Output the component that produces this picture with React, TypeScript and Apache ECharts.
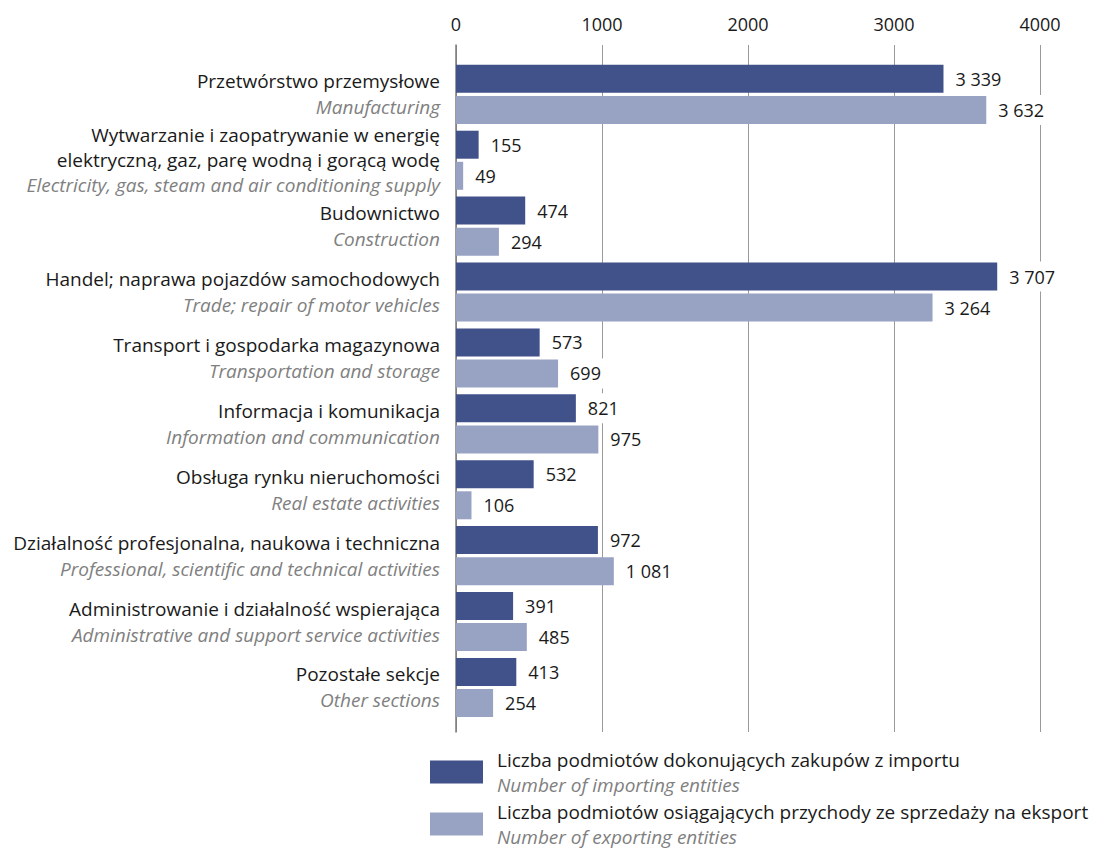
import React, { useEffect, useRef } from "react";
import * as echarts from "echarts";

const categoriesPl: string[][] = [
  ["Przetwórstwo przemysłowe"],
  ["Wytwarzanie i zaopatrywanie w energię", "elektryczną, gaz, parę wodną i gorącą wodę"],
  ["Budownictwo"],
  ["Handel; naprawa pojazdów samochodowych"],
  ["Transport i gospodarka magazynowa"],
  ["Informacja i komunikacja"],
  ["Obsługa rynku nieruchomości"],
  ["Działalność profesjonalna, naukowa i techniczna"],
  ["Administrowanie i działalność wspierająca"],
  ["Pozostałe sekcje"],
];
const categoriesEn: string[] = [
  "Manufacturing",
  "Electricity, gas, steam and air conditioning supply",
  "Construction",
  "Trade; repair of motor vehicles",
  "Transportation and storage",
  "Information and communication",
  "Real estate activities",
  "Professional, scientific and technical activities",
  "Administrative and support service activities",
  "Other sections",
];
const importing: number[] = [3339, 155, 474, 3707, 573, 821, 532, 972, 391, 413];
const exporting: number[] = [3632, 49, 294, 3264, 699, 975, 106, 1081, 485, 254];
const xTicks: number[] = [0, 1000, 2000, 3000, 4000];
const seriesNamesPl: string[] = [
  "Liczba podmiotów dokonujących zakupów z importu",
  "Liczba podmiotów osiągających przychody ze sprzedaży na eksport",
];
const seriesNamesEn: string[] = ["Number of importing entities", "Number of exporting entities"];

const DARK = "#415189";
const LIGHT = "#98a3c4";
const FONT = "'Open Sans', sans-serif";
const FS = 19;

const fmt = (v: number) => String(v).replace(/\B(?=(\d{3})+(?!\d))/g, " ");

export default function App() {
  const ref = useRef<HTMLDivElement>(null);
  useEffect(() => {
    document.body.style.margin = "0";
    if (!ref.current) return;
    const chart = echarts.init(ref.current, null, { renderer: "svg" });
    const catKeys = categoriesPl.map((c) => c.join(" "));
    const valueLabel = {
      show: true,
      position: "right",
      distance: 8,
      formatter: (p: any) => fmt(p.value),
      color: "#1a1a1a",
      fontFamily: FONT,
      fontSize: 18,
      backgroundColor: "#ffffff",
      padding: [6, 4],
    };
    const legendText = {
      rich: {
        pl: { fontSize: FS, lineHeight: 25, color: "#1a1a1a", fontFamily: FONT, padding: [0, 0, 0, 9] },
        en: { fontSize: FS, lineHeight: 25, color: "#808080", fontStyle: "italic", fontFamily: FONT, padding: [0, 0, 0, 9] },
      },
    };
    const legendFormatter = (name: string) => {
      const i = seriesNamesPl.indexOf(name);
      return `{pl|${name}}\n{en|${seriesNamesEn[i]}}`;
    };
    const legendTops = [750, 802];
    chart.setOption({
      animation: false,
      textStyle: { fontFamily: FONT },
      grid: [
        { left: 456, right: 58, top: 45, height: 687 },
        { left: 456, right: 58, top: 61.4, height: 659 },
      ],
      xAxis: [
        {
          gridIndex: 0,
          type: "value",
          position: "top",
          min: xTicks[0],
          max: xTicks[xTicks.length - 1],
          interval: 1000,
          axisLine: { show: false },
          axisTick: { show: false },
          axisLabel: {
            margin: 12,
            color: "#1a1a1a",
            fontSize: 18,
            fontFamily: FONT,
            formatter: (v: number) => String(v),
          },
          splitLine: { show: true, lineStyle: { color: "#9a9a9a", width: 1 } },
        },
        {
          gridIndex: 1,
          type: "value",
          min: xTicks[0],
          max: xTicks[xTicks.length - 1],
          show: false,
        },
      ],
      yAxis: [
        {
          gridIndex: 0,
          type: "value",
          min: 0,
          max: 1,
          axisLabel: { show: false },
          axisTick: { show: false },
          splitLine: { show: false },
          axisLine: { show: true, lineStyle: { color: "#7a7a7a", width: 1.5 } },
        },
        {
          gridIndex: 1,
          type: "category",
          inverse: true,
          data: catKeys,
          axisLine: { show: false },
          axisTick: { show: false },
          axisLabel: {
            margin: 16,
            align: "right",
            formatter: (_v: string, i: number) => {
              const pl = categoriesPl[i];
              if (pl.length > 1) {
                return pl.map((l) => `{pl3|${l}}`).join("\n") + `\n{en3|${categoriesEn[i]}}`;
              }
              return `{pl|${pl[0]}}\n{en|${categoriesEn[i]}}`;
            },
            rich: {
              pl: { fontSize: FS, lineHeight: 26, color: "#1a1a1a", fontFamily: FONT, align: "right" },
              en: { fontSize: FS, lineHeight: 26, color: "#808080", fontStyle: "italic", fontFamily: FONT, align: "right" },
              pl3: { fontSize: FS, lineHeight: 25, color: "#1a1a1a", fontFamily: FONT, align: "right" },
              en3: { fontSize: FS, lineHeight: 25, color: "#808080", fontStyle: "italic", fontFamily: FONT, align: "right" },
            },
          },
        },
      ],
      legend: seriesNamesPl.map((name, i) => ({
        orient: "vertical",
        left: 430,
        top: legendTops[i],
        padding: 0,
        itemWidth: 53,
        itemHeight: 23,
        icon: "rect",
        data: [name],
        formatter: legendFormatter,
        textStyle: legendText,
      })),
      series: [
        {
          name: seriesNamesPl[0],
          type: "bar",
          xAxisIndex: 1,
          yAxisIndex: 1,
          data: importing,
          barWidth: 28,
          barGap: "11%",
          itemStyle: { color: DARK },
          label: valueLabel,
        },
        {
          name: seriesNamesPl[1],
          type: "bar",
          xAxisIndex: 1,
          yAxisIndex: 1,
          data: exporting,
          barWidth: 28,
          barGap: "11%",
          itemStyle: { color: LIGHT },
          label: valueLabel,
        },
      ],
    });
    return () => chart.dispose();
  }, []);
  return <div ref={ref} style={{ width: 1098, height: 848 }} />;
}
